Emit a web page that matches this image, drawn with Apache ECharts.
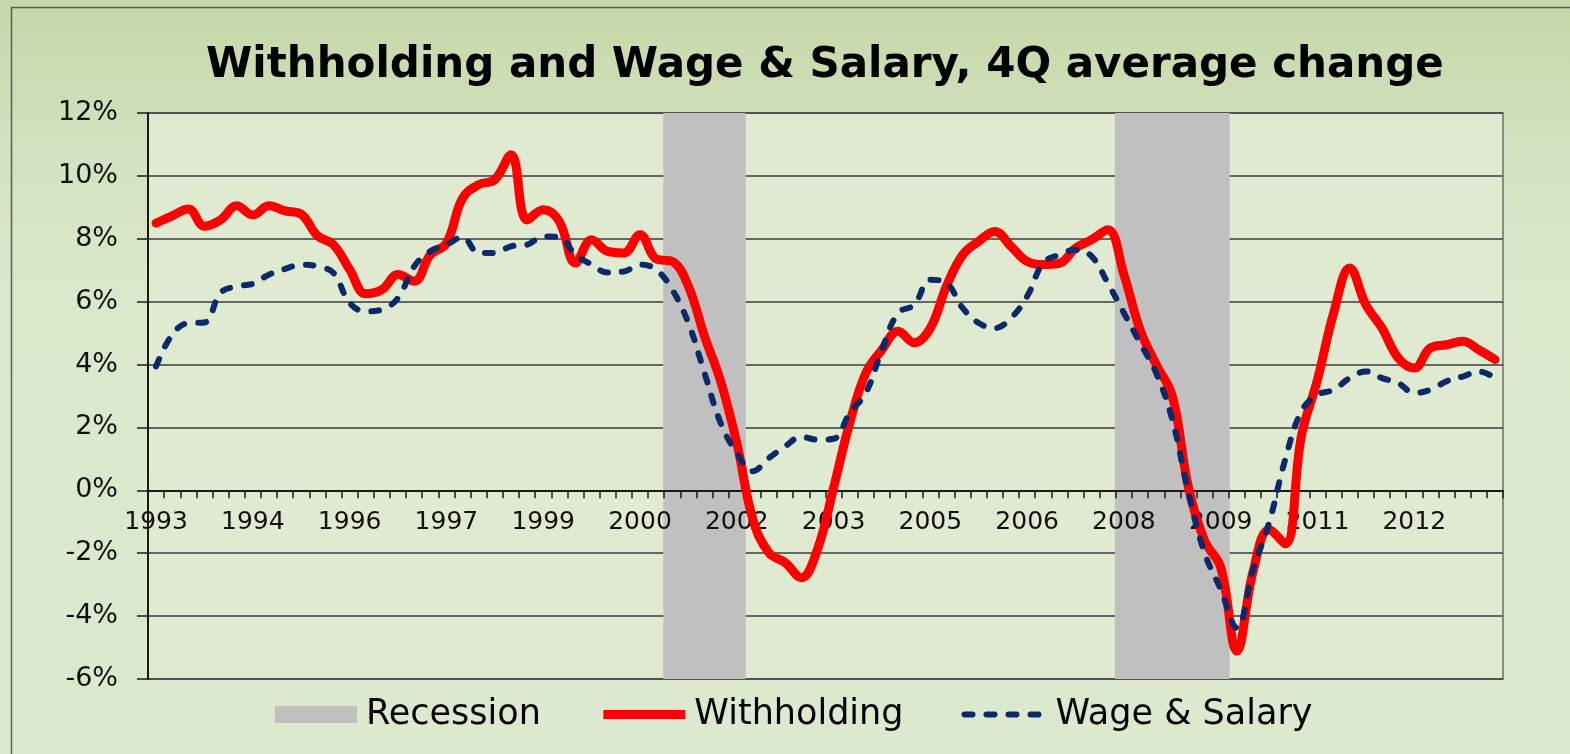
<!DOCTYPE html>
<html>
<head>
<meta charset="utf-8">
<title>Withholding and Wage &amp; Salary</title>
<script src="https://cdn.jsdelivr.net/npm/echarts@6/dist/echarts.min.js"></script>
<style>
  html, body { margin: 0; padding: 0; }
  #chart { width: 1570px; height: 754px; }
</style>
</head>
<body>
<div id="chart"></div>
<script>
// quarters, 1993Q1 .. 2013Q4
const quarters = [
  '1993Q1','1993Q2','1993Q3','1993Q4',
  '1994Q1','1994Q2','1994Q3','1994Q4',
  '1995Q1','1995Q2','1995Q3','1995Q4',
  '1996Q1','1996Q2','1996Q3','1996Q4',
  '1997Q1','1997Q2','1997Q3','1997Q4',
  '1998Q1','1998Q2','1998Q3','1998Q4',
  '1999Q1','1999Q2','1999Q3','1999Q4',
  '2000Q1','2000Q2','2000Q3','2000Q4',
  '2001Q1','2001Q2','2001Q3','2001Q4',
  '2002Q1','2002Q2','2002Q3','2002Q4',
  '2003Q1','2003Q2','2003Q3','2003Q4',
  '2004Q1','2004Q2','2004Q3','2004Q4',
  '2005Q1','2005Q2','2005Q3','2005Q4',
  '2006Q1','2006Q2','2006Q3','2006Q4',
  '2007Q1','2007Q2','2007Q3','2007Q4',
  '2008Q1','2008Q2','2008Q3','2008Q4',
  '2009Q1','2009Q2','2009Q3','2009Q4',
  '2010Q1','2010Q2','2010Q3','2010Q4',
  '2011Q1','2011Q2','2011Q3','2011Q4',
  '2012Q1','2012Q2','2012Q3','2012Q4',
  '2013Q1','2013Q2','2013Q3','2013Q4'
];

// 4Q average change, %
const withholding = [
  8.50, 8.73, 8.95, 8.40, 8.60, 9.05, 8.76, 9.05, 8.89, 8.78, 8.10, 7.81,
  7.02, 6.25, 6.38, 6.86, 6.65, 7.49, 7.86, 9.29, 9.72, 9.88, 10.67, 8.60,
  8.92, 8.55, 7.23, 7.97, 7.60, 7.55, 8.13, 7.36, 7.28, 6.49, 4.90, 3.47,
  1.51, -0.93, -1.99, -2.30, -2.78, -1.88, 0.08, 2.14, 3.73, 4.47, 5.06, 4.69,
  5.16, 6.49, 7.49, 7.92, 8.23, 7.76, 7.28, 7.18, 7.22, 7.70, 7.97, 8.29,
  6.86, 5.11, 4.00, 3.00, 0.10, -1.60, -2.45, -5.11, -2.60, -1.25, -1.70, 1.72,
  3.52, 5.64, 7.07, 5.90, 5.16, 4.21, 3.89, 4.53, 4.63, 4.74, 4.47, 4.16
];

const wageSalary = [
  3.94, 4.95, 5.32, 5.34, 6.28, 6.49, 6.57, 6.86, 7.04, 7.18, 7.12, 6.91,
  5.96, 5.69, 5.75, 6.12, 7.12, 7.60, 7.81, 8.05, 7.55, 7.55, 7.76, 7.81,
  8.07, 8.05, 7.49, 7.18, 6.93, 6.96, 7.18, 7.02, 6.38, 5.32, 3.73, 2.14,
  1.19, 0.61, 1.03, 1.40, 1.70, 1.61, 1.64, 2.46, 3.10, 4.47, 5.64, 5.90,
  6.70, 6.59, 5.80, 5.32, 5.16, 5.48, 6.17, 7.23, 7.49, 7.65, 7.44, 6.59,
  5.64, 4.69, 3.73, 2.25, -0.08, -1.99, -3.15, -4.37, -2.52, -1.03, 0.98, 2.51,
  3.04, 3.20, 3.57, 3.78, 3.57, 3.41, 3.10, 3.20, 3.47, 3.62, 3.78, 3.57
];

// 1 = shaded recession quarter
const recession = [
  0,0,0,0, 0,0,0,0, 0,0,0,0, 0,0,0,0, 0,0,0,0, 0,0,0,0, 0,0,0,0, 0,0,0,0,
  1,1,1,1, 1,0,0,0, 0,0,0,0, 0,0,0,0, 0,0,0,0, 0,0,0,0, 0,0,0,0,
  1,1,1,1, 1,1,1,0, 0,0,0,0, 0,0,0,0, 0,0,0,0
];

const yMin = -6, yMax = 12, yStep = 2;

const font = 'DejaVu Sans';
const recColor = '#c0c0c0';
const red = '#ff0000';
const navy = '#0c2a6a';

// plot box
const W = 1570, H = 754;
const gridL = 148, gridR = 67, gridT = 113, gridB = 75;
// the category axis sits on the 0% line, so shift it up from the bottom edge
const plotH = H - gridT - gridB;
const zeroShift = -plotH * (0 - yMin) / (yMax - yMin);

// the shaded band fills the whole plot height: one bar up to the top, one down to the bottom
const recUp = recession.map(f => f ? yMax : '-');
const recDown = recession.map(f => f ? yMin : '-');

const chart = echarts.init(document.getElementById('chart'));

chart.setOption({
  animation: false,
  backgroundColor: new echarts.graphic.LinearGradient(0, 0, 0, 1, [
    { offset: 0, color: '#c4d7a7' },
    { offset: 0.2, color: '#d3e2c0' },
    { offset: 0.4, color: '#dce8cc' },
    { offset: 1, color: '#dde9cf' }
  ]),
  graphic: [{
    type: 'rect',
    left: 9, top: 5,
    shape: { width: 1600, height: 800 },
    style: { fill: 'none', stroke: '#5a5a5a', lineWidth: 1.5 },
    silent: true
  }],
  title: {
    text: 'Withholding and Wage & Salary, 4Q average change',
    left: 201,
    top: 40,
    textStyle: { fontFamily: font, fontWeight: 'bold', fontSize: 42, color: '#000' }
  },
  legend: {
    left: 270,
    top: 692,
    itemWidth: 82,
    itemHeight: 17,
    itemGap: 58,
    selectedMode: false,
    textStyle: { fontFamily: font, fontSize: 35, color: '#000', padding: [0, 0, 0, 4] },
    data: [
      { name: 'Recession', icon: 'rect' },
      { name: 'Withholding', itemStyle: { opacity: 0 }, lineStyle: { width: 9, cap: 'butt' } },
      { name: 'Wage & Salary', itemStyle: { opacity: 0 }, lineStyle: { width: 6 } }
    ]
  },
  grid: {
    left: gridL, right: gridR, top: gridT, bottom: gridB,
    show: true,
    backgroundColor: '#dfead0',
    borderColor: '#8a8a8a',
    borderWidth: 2
  },
  xAxis: {
    type: 'category',
    data: quarters,
    boundaryGap: true,
    offset: zeroShift,
    z: 3,
    axisLine: { onZero: false, lineStyle: { color: '#1a1a1a', width: 2 } },
    axisTick: { show: true, interval: 0, length: 8, lineStyle: { color: '#1a1a1a', width: 1.5 } },
    axisLabel: {
      interval: 5,
      margin: 20,
      fontFamily: font,
      fontSize: 25,
      color: '#111',
      formatter: v => v.slice(0, 4)
    },
    splitLine: { show: false }
  },
  yAxis: {
    type: 'value',
    min: yMin, max: yMax, interval: yStep,
    axisLine: { show: true, lineStyle: { color: '#1a1a1a', width: 2 } },
    axisTick: { show: true, length: 11, lineStyle: { color: '#1a1a1a', width: 1.5 } },
    axisLabel: {
      formatter: '{value}%',
      margin: 30,
      fontFamily: font,
      fontSize: 27,
      color: '#111'
    },
    splitLine: { lineStyle: { color: '#3c3c3c', width: 1.5 } }
  },
  series: [
    {
      name: 'Recession', type: 'bar', stack: 'rec', data: recUp,
      barWidth: '112%', z: 1, silent: true,
      itemStyle: { color: recColor }
    },
    {
      name: 'Recession', type: 'bar', stack: 'rec', data: recDown,
      barWidth: '112%', z: 1, silent: true,
      itemStyle: { color: recColor }
    },
    {
      name: 'Withholding', type: 'line', data: withholding,
      smooth: 0.4, symbol: 'none', z: 4,
      itemStyle: { color: red },
      lineStyle: { color: red, width: 9, cap: 'round', join: 'round' }
    },
    {
      name: 'Wage & Salary', type: 'line', data: wageSalary,
      smooth: 0.4, symbol: 'none', z: 5,
      itemStyle: { color: navy },
      lineStyle: { color: navy, width: 6, type: [8, 14], cap: 'round', join: 'round' }
    }
  ]
});
</script>
</body>
</html>
